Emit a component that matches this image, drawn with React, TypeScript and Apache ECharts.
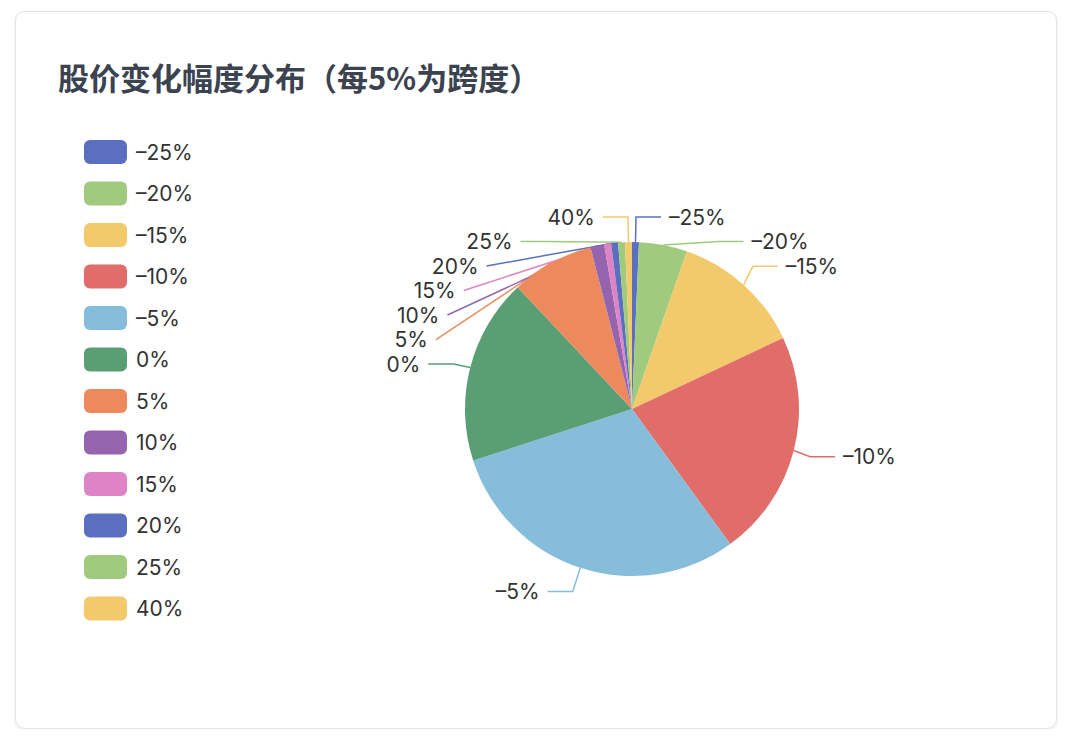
import React, { useEffect, useRef } from "react";
import * as echarts from "echarts";

const titleText = "股价变化幅度分布（每5%为跨度）";
const categories = ["–25%", "–20%", "–15%", "–10%", "–5%", "0%", "5%", "10%", "15%", "20%", "25%", "40%"];
const counts = [1, 7, 19, 33, 45, 27, 12, 2, 1, 1, 1, 1];
const palette = ["#5a6fc0", "#a0cb7f", "#f2c96b", "#e06d69", "#85bddb", "#5a9f74", "#ec8a5d", "#9464ae", "#de83c6"];

export default function App() {
  const ref = useRef<HTMLDivElement>(null);
  useEffect(() => {
    if (!ref.current) return;
    const chart = echarts.init(ref.current, undefined, { renderer: "svg" });
    const latin = "Inter, 'Noto Sans CJK SC', sans-serif";
    chart.setOption({
      animation: false,
      color: palette,
      title: {
        text: titleText,
        left: 42,
        top: 49,
        padding: 0,
        textStyle: {
          fontFamily: "'Noto Sans CJK SC', sans-serif",
          fontSize: 31,
          fontWeight: "bold",
          color: "#3b4250",
        },
      },
      legend: {
        orient: "vertical",
        left: 68,
        top: 128,
        padding: 0,
        itemWidth: 43,
        itemHeight: 24,
        itemGap: 17.5,
        icon: "roundRect",
        textStyle: {
          fontFamily: latin,
          fontSize: 21,
          color: "#333",
          padding: [0, 0, 0, 4],
        },
        data: categories,
      },
      series: [
        {
          type: "pie",
          center: [616, 397],
          radius: 167,
          startAngle: 90,
          data: categories.map((c, i) => ({ name: c, value: counts[i] })),
          label: {
            show: true,
            fontFamily: latin,
            fontSize: 21,
            lineHeight: 22.5,
            color: "#333",
            distanceToLabelLine: 8,
          },
          labelLine: {
            length: 25,
            length2: 25,
            lineStyle: { width: 1.5 },
          },
        },
      ],
    });
    return () => chart.dispose();
  }, []);
  return (
    <div style={{ paddingLeft: 7, paddingTop: 3 }}>
      <div
        style={{
          width: 1040,
          height: 716,
          border: "1px solid #e4e4e8",
          borderRadius: 10,
          boxShadow: "0 2px 5px rgba(0,0,0,0.07)",
          background: "#fff",
        }}
      >
        <div ref={ref} style={{ width: 1040, height: 716 }} />
      </div>
    </div>
  );
}
